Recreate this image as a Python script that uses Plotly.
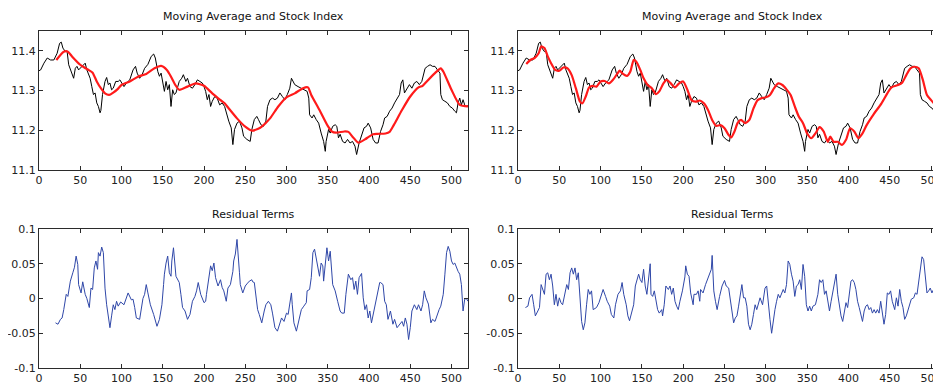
import plotly.graph_objects as go

# ---------------- data ----------------
stock_x = [0, 2, 6, 10, 14, 18, 22, 25, 27, 29, 32, 34, 36, 38, 42, 44, 46, 48, 52, 56,
           58, 60, 62, 64, 66, 68, 70, 72, 74, 75, 77, 80, 82, 84, 86, 88, 90, 93, 96, 98,
           100, 103, 106, 110, 114, 117, 119, 122, 125, 128, 132, 136, 139, 141, 144, 146, 148, 150, 152, 154,
           156, 158, 160, 162, 164, 166, 168, 170, 173, 175, 178, 180, 183, 186, 189, 192, 195, 198, 200, 202,
           204, 206, 208, 210, 213, 216, 219, 222, 225, 227, 230, 233, 235, 237, 240, 243, 246, 248, 252, 256,
           258, 261, 264, 266, 269, 272, 275, 277, 280, 283, 286, 289, 292, 295, 298, 301, 304, 306, 308, 310,
           314, 318, 322, 325, 327, 328, 331, 333, 336, 339, 342, 345, 347, 348, 351, 353, 356, 359, 361, 363,
           365, 368, 371, 374, 377, 380, 383, 385, 388, 391, 394, 397, 399, 402, 405, 408, 411, 414, 417, 419,
           422, 425, 428, 431, 434, 437, 439, 441, 443, 446, 449, 452, 455, 458, 461, 464, 466, 468, 471, 474,
           477, 480, 483, 486, 487, 489, 492, 495, 498, 501, 504, 506, 508, 510, 512, 514, 516, 518, 520]
stock_y = [11.350, 11.352, 11.369, 11.382, 11.377, 11.377, 11.394, 11.419, 11.422, 11.407, 11.398, 11.400, 11.365, 11.352, 11.331, 11.356, 11.361, 11.352, 11.361, 11.369,
           11.352, 11.340, 11.331, 11.310, 11.290, 11.294, 11.269, 11.260, 11.244, 11.250, 11.290, 11.323, 11.333, 11.315, 11.319, 11.302, 11.306, 11.323, 11.323, 11.327,
           11.319, 11.310, 11.319, 11.327, 11.352, 11.361, 11.344, 11.331, 11.340, 11.356, 11.366, 11.386, 11.392, 11.382, 11.348, 11.336, 11.344, 11.323, 11.298, 11.323,
           11.302, 11.315, 11.260, 11.302, 11.290, 11.294, 11.310, 11.323, 11.331, 11.340, 11.323, 11.331, 11.310, 11.306, 11.315, 11.327, 11.323, 11.319, 11.310, 11.298,
           11.277, 11.290, 11.260, 11.273, 11.285, 11.281, 11.264, 11.269, 11.260, 11.244, 11.223, 11.206, 11.164, 11.202, 11.218, 11.223, 11.206, 11.185, 11.177, 11.172,
           11.202, 11.227, 11.235, 11.227, 11.214, 11.210, 11.223, 11.260, 11.277, 11.281, 11.277, 11.281, 11.294, 11.285, 11.277, 11.290, 11.306, 11.331, 11.323, 11.315,
           11.310, 11.306, 11.302, 11.298, 11.281, 11.239, 11.231, 11.239, 11.227, 11.218, 11.193, 11.172, 11.147, 11.172, 11.202, 11.193, 11.210, 11.214, 11.210, 11.181,
           11.190, 11.172, 11.168, 11.177, 11.168, 11.172, 11.160, 11.139, 11.168, 11.189, 11.206, 11.210, 11.218, 11.206, 11.177, 11.168, 11.168, 11.197, 11.214, 11.231,
           11.235, 11.248, 11.256, 11.269, 11.281, 11.290, 11.319, 11.327, 11.294, 11.306, 11.315, 11.306, 11.319, 11.323, 11.315, 11.323, 11.344, 11.356, 11.361, 11.365,
           11.361, 11.361, 11.352, 11.344, 11.290, 11.277, 11.273, 11.269, 11.260, 11.256, 11.248, 11.244, 11.269, 11.281, 11.264, 11.277, 11.264, 11.260, 11.262]

ma_left_x = [21, 30, 35, 40, 50, 55, 60, 65, 70, 75, 80, 85, 90, 95, 100, 110, 120, 130, 140, 148,
             155, 160, 165, 170, 180, 190, 200, 210, 220, 225, 230, 240, 250, 258, 265, 270, 280, 290, 300, 310,
             320, 326, 330, 340, 350, 355, 360, 370, 375, 380, 387, 395, 400, 405, 410, 420, 425, 430, 440, 450,
             460, 465, 470, 480, 487, 490, 500, 510, 520]
ma_left_y = [11.377, 11.398, 11.398, 11.386, 11.365, 11.358, 11.352, 11.345, 11.323, 11.306, 11.293, 11.289, 11.295, 11.303, 11.314, 11.323, 11.335, 11.342, 11.356, 11.362,
             11.352, 11.335, 11.315, 11.302, 11.310, 11.318, 11.312, 11.293, 11.276, 11.268, 11.255, 11.230, 11.209, 11.199, 11.203, 11.209, 11.230, 11.260, 11.283, 11.293,
             11.306, 11.308, 11.289, 11.251, 11.211, 11.197, 11.194, 11.197, 11.196, 11.184, 11.169, 11.177, 11.184, 11.190, 11.191, 11.192, 11.196, 11.213, 11.251, 11.285,
             11.308, 11.312, 11.323, 11.344, 11.356, 11.348, 11.302, 11.264, 11.260]

ma_right_x = [10, 15, 20, 25, 28, 32, 36, 40, 45, 50, 55, 60, 65, 70, 75, 78, 82, 86, 90, 95,
              100, 105, 110, 115, 120, 123, 127, 132, 136, 140, 143, 148, 152, 157, 162, 167, 171, 176, 180, 185,
              190, 195, 200, 205, 210, 215, 220, 225, 230, 235, 240, 245, 250, 255, 258, 262, 266, 270, 275, 280,
              285, 290, 295, 300, 305, 310, 315, 320, 325, 330, 335, 340, 345, 350, 355, 360, 365, 370, 375, 378,
              382, 387, 392, 397, 402, 407, 412, 417, 422, 430, 440, 447, 452, 460, 465, 470, 475, 480, 485, 490,
              495, 500, 505, 510, 515, 520]
ma_right_y = [11.367, 11.377, 11.382, 11.394, 11.411, 11.407, 11.386, 11.369, 11.352, 11.350, 11.358, 11.356, 11.339, 11.306, 11.272, 11.268, 11.285, 11.308, 11.312, 11.310,
              11.323, 11.324, 11.318, 11.327, 11.342, 11.350, 11.342, 11.337, 11.348, 11.377, 11.373, 11.352, 11.331, 11.314, 11.306, 11.291, 11.298, 11.318, 11.327, 11.318,
              11.308, 11.318, 11.323, 11.302, 11.276, 11.272, 11.275, 11.268, 11.251, 11.226, 11.211, 11.213, 11.205, 11.188, 11.182, 11.197, 11.219, 11.226, 11.218, 11.226,
              11.255, 11.276, 11.281, 11.283, 11.289, 11.306, 11.318, 11.314, 11.303, 11.289, 11.260, 11.234, 11.218, 11.192, 11.180, 11.192, 11.208, 11.197, 11.171, 11.184,
              11.171, 11.171, 11.163, 11.176, 11.205, 11.197, 11.180, 11.192, 11.213, 11.239, 11.268, 11.293, 11.308, 11.314, 11.320, 11.339, 11.356, 11.360, 11.356, 11.327,
              11.289, 11.276, 11.264, 11.255, 11.262, 11.266]

res_left_x = [20, 23, 26, 28, 30, 33, 35, 38, 41, 43, 45, 47, 48, 51, 53, 56, 58, 61, 63, 65,
              67, 69, 71, 72, 74, 76, 78, 80, 82, 84, 86, 88, 90, 92, 94, 96, 99, 103, 105, 108,
              112, 114, 116, 118, 122, 124, 126, 128, 130, 132, 135, 139, 141, 143, 146, 149, 151, 152, 154, 156,
              158, 160, 161, 163, 166, 168, 170, 172, 174, 177, 180, 183, 186, 189, 191, 193, 196, 200, 202, 203,
              206, 208, 210, 212, 214, 217, 220, 222, 224, 227, 229, 232, 235, 236, 238, 240, 243, 244, 247, 250,
              252, 255, 258, 259, 261, 263, 265, 267, 270, 273, 275, 278, 281, 283, 286, 289, 291, 294, 297, 300,
              302, 304, 306, 307, 309, 312, 316, 318, 321, 324, 325, 328, 330, 332, 334, 336, 338, 340, 342, 344,
              345, 347, 349, 351, 353, 356, 359, 362, 365, 367, 370, 372, 375, 378, 380, 382, 384, 386, 388, 391,
              393, 395, 397, 399, 401, 403, 405, 408, 411, 413, 414, 417, 419, 421, 423, 426, 429, 431, 434, 437,
              440, 442, 444, 446, 448, 450, 452, 455, 458, 460, 463, 465, 467, 469, 472, 475, 477, 480, 483, 485,
              487, 488, 490, 492, 494, 496, 498, 500, 502, 504, 506, 508, 510, 512, 514, 516, 518, 520]
res_left_y = [-0.035, -0.037, -0.030, -0.028, -0.016, 0.006, 0.003, 0.025, 0.037, 0.045, 0.061, 0.049, 0.020, 0.008, 0.024, 0.006, 0.000, -0.013, 0.015, 0.013,
              0.044, 0.054, 0.042, 0.066, 0.061, 0.074, 0.066, 0.015, -0.009, -0.030, -0.042, -0.025, -0.009, -0.016, -0.004, -0.011, -0.005, -0.009, -0.001, 0.008,
              -0.002, -0.001, -0.013, -0.028, -0.030, -0.011, 0.000, 0.006, 0.020, 0.008, -0.009, -0.023, -0.033, -0.040, -0.030, -0.009, 0.020, 0.035, 0.051, 0.061,
              0.037, 0.032, 0.054, 0.073, 0.032, 0.027, 0.023, 0.006, -0.013, -0.018, -0.030, -0.023, -0.004, 0.003, 0.011, 0.023, 0.006, -0.006, -0.004, 0.006,
              0.032, 0.047, 0.040, 0.051, 0.030, 0.018, 0.027, 0.016, 0.011, -0.004, 0.015, 0.020, 0.039, 0.054, 0.064, 0.085, 0.037, 0.020, 0.008, 0.018,
              0.021, 0.025, 0.027, 0.024, 0.023, 0.003, -0.016, -0.023, -0.035, -0.018, -0.009, -0.004, -0.009, -0.021, -0.042, -0.047, -0.040, -0.028, -0.033, -0.021,
              -0.023, -0.009, 0.008, -0.009, -0.035, -0.047, -0.025, -0.016, -0.011, -0.006, 0.011, 0.013, 0.030, 0.066, 0.071, 0.059, 0.042, 0.032, 0.051, 0.047,
              0.025, 0.054, 0.073, 0.054, 0.068, 0.020, 0.011, -0.004, -0.018, -0.021, -0.021, 0.006, 0.035, 0.027, 0.030, 0.013, 0.025, 0.006, 0.030, 0.036,
              0.001, -0.016, -0.009, -0.028, -0.018, -0.035, -0.023, -0.004, 0.013, 0.023, 0.023, 0.020, -0.004, -0.009, -0.030, -0.018, -0.037, -0.030, -0.042, -0.037,
              -0.033, -0.040, -0.028, -0.037, -0.059, -0.042, -0.018, -0.009, -0.016, -0.009, -0.018, -0.009, 0.011, 0.001, -0.008, -0.035, -0.030, -0.033, -0.021, -0.016,
              -0.011, -0.004, 0.006, 0.035, 0.066, 0.075, 0.068, 0.054, 0.049, 0.051, 0.044, 0.039, 0.035, 0.020, -0.018, -0.001, 0.000, -0.004, 0.003, -0.002]
res_left_x = res_left_x[:len(res_left_y)]

res_right_x = [9, 12, 14, 17, 19, 21, 24, 26, 28, 30, 32, 34, 36, 38, 40, 42, 44, 46, 48, 50,
               52, 54, 57, 59, 61, 63, 65, 67, 69, 71, 73, 75, 77, 79, 81, 83, 85, 87, 89, 91,
               95, 98, 100, 103, 106, 108, 111, 113, 116, 118, 121, 124, 126, 128, 131, 133, 135, 137, 140, 142,
               144, 146, 148, 150, 152, 154, 156, 158, 160, 161, 163, 165, 167, 169, 171, 174, 175, 177, 179, 182,
               184, 186, 188, 190, 192, 194, 196, 199, 202, 203, 205, 207, 209, 212, 213, 216, 218, 220, 221, 224,
               227, 229, 232, 234, 235, 237, 239, 241, 244, 247, 250, 252, 255, 257, 259, 261, 263, 265, 267, 269,
               271, 273, 275, 277, 279, 281, 283, 285, 287, 289, 291, 293, 296, 299, 301, 303, 305, 307, 309, 311,
               313, 315, 317, 319, 321, 323, 325, 327, 329, 331, 333, 335, 337, 339, 341, 343, 345, 347, 349, 351,
               353, 355, 357, 360, 363, 365, 367, 369, 371, 373, 375, 377, 379, 381, 383, 385, 387, 389, 391, 393,
               395, 397, 399, 401, 403, 405, 407, 409, 411, 413, 415, 417, 419, 421, 423, 425, 427, 429, 431, 433,
               435, 437, 439, 441, 443, 445, 447, 449, 451, 453, 456, 458, 460, 462, 464, 466, 468, 470, 472, 474,
               476, 479, 481, 483, 485, 487, 489, 491, 493, 495, 497, 499, 501, 503, 505, 507, 509, 511, 514, 517, 520]
res_right_y = [-0.013, -0.011, 0.001, 0.006, -0.009, -0.025, -0.018, -0.013, 0.020, 0.013, 0.006, 0.035, 0.037, 0.027, 0.035, 0.018, -0.009, 0.006, -0.011, 0.001,
               -0.006, -0.009, 0.006, 0.020, 0.013, 0.037, 0.044, 0.035, 0.044, 0.027, 0.037, 0.001, -0.033, -0.045, -0.035, -0.009, 0.013, 0.006, 0.011, -0.016,
               -0.013, -0.006, 0.001, 0.013, 0.003, -0.004, -0.011, -0.023, -0.028, -0.009, 0.006, 0.011, 0.023, 0.006, -0.009, -0.025, -0.032, -0.023, -0.009, 0.018,
               0.025, 0.035, 0.027, 0.023, 0.042, 0.018, 0.006, 0.032, 0.050, 0.006, 0.003, 0.011, -0.006, -0.016, -0.021, -0.016, -0.025, -0.009, 0.018, 0.013,
               0.018, 0.006, 0.015, -0.004, -0.011, -0.016, -0.004, 0.011, 0.031, 0.047, 0.035, 0.032, 0.008, -0.009, 0.006, 0.006, 0.011, -0.004, 0.013, 0.008,
               0.020, 0.027, 0.035, 0.042, 0.062, 0.011, -0.004, -0.016, 0.003, 0.018, 0.026, 0.018, 0.015, -0.004, -0.023, -0.035, -0.028, -0.025, -0.011, 0.006,
               0.020, 0.001, 0.001, -0.011, -0.037, -0.045, -0.037, -0.023, -0.009, -0.016, -0.009, 0.001, -0.009, 0.015, 0.018, -0.013, -0.030, -0.050, -0.028, -0.016,
               -0.004, 0.006, 0.001, 0.006, 0.013, 0.008, 0.020, 0.054, 0.049, 0.035, 0.025, 0.003, 0.018, 0.020, 0.027, 0.013, 0.049, 0.032, -0.009, -0.018,
               -0.011, -0.018, -0.011, -0.009, 0.006, 0.027, 0.023, 0.027, 0.006, 0.011, -0.006, -0.018, -0.004, 0.011, 0.020, 0.035, 0.006, -0.009, -0.025, -0.033,
               -0.018, -0.006, -0.013, 0.011, 0.025, 0.027, 0.023, 0.013, -0.004, -0.013, -0.025, -0.033, -0.018, -0.011, -0.009, -0.016, -0.013, -0.021, -0.016, -0.021,
               -0.016, -0.021, -0.004, -0.025, -0.037, -0.023, 0.008, 0.006, 0.011, -0.004, -0.016, 0.001, -0.011, 0.013, -0.004, -0.013, -0.030, -0.025, -0.016, -0.006,
               -0.001, 0.001, 0.008, 0.006, 0.027, 0.044, 0.060, 0.056, 0.032, 0.008, 0.011, 0.015, 0.008, 0.013, 0.006, 0.003, -0.013, -0.028, -0.020, -0.012, -0.010]
res_right_x = res_right_x[:len(res_right_y)]

title_top = "Moving Average and Stock Index"
title_bottom = "Residual Terms"
x_ticks = [0, 50, 100, 150, 200, 250, 300, 350, 400, 450, 500]
y_top_ticks = [11.1, 11.2, 11.3, 11.4]
y_top_labels = ["11.1", "11.2", "11.3", "11.4"]
y_res_ticks = [-0.1, -0.05, 0, 0.05, 0.1]
y_res_labels = ["-0.1", "-0.05", "0", "0.05", "0.1"]

# ---------------- figure ----------------
# The page body adds an 8px offset, so the figure is 8px smaller and all
# positions are expressed in figure pixels (screen pixel - 8).
OFF = 8
W, H = 941 - OFF, 384 - OFF
AX = "#2b2b2b"
FONT = dict(family="DejaVu Sans", size=11, color="#222222")
STOCK_C = "#000000"
MA_C = "#ff1a1a"
RES_C = "#2f47a8"

fig = go.Figure()
fig.add_trace(go.Scatter(x=stock_x, y=stock_y, mode="lines", line=dict(color=STOCK_C, width=1),
                         xaxis="x", yaxis="y", showlegend=False))
fig.add_trace(go.Scatter(x=ma_left_x, y=ma_left_y, mode="lines", line=dict(color=MA_C, width=2.2, shape="spline", smoothing=0.6),
                         xaxis="x", yaxis="y", showlegend=False))
fig.add_trace(go.Scatter(x=stock_x, y=stock_y, mode="lines", line=dict(color=STOCK_C, width=1),
                         xaxis="x2", yaxis="y2", showlegend=False))
fig.add_trace(go.Scatter(x=ma_right_x, y=ma_right_y, mode="lines", line=dict(color=MA_C, width=2.2, shape="spline", smoothing=0.6),
                         xaxis="x2", yaxis="y2", showlegend=False))
fig.add_trace(go.Scatter(x=res_left_x, y=res_left_y, mode="lines", line=dict(color=RES_C, width=1),
                         xaxis="x3", yaxis="y3", showlegend=False))
fig.add_trace(go.Scatter(x=res_right_x, y=res_right_y, mode="lines", line=dict(color=RES_C, width=1),
                         xaxis="x4", yaxis="y4", showlegend=False))

def axis(**kw):
    d = dict(showline=True, linecolor=AX, linewidth=1, mirror="ticks", ticks="inside",
             ticklen=4, tickwidth=1, tickcolor=AX, showgrid=False, zeroline=False,
             tickfont=FONT, fixedrange=True, automargin=False, ticklabeloverflow="allow")
    d.update(kw)
    return d

def px_x(p):
    return (p - OFF) / W

def px_y(p):
    return 1 - (p - OFF) / H

xl = [px_x(39), px_x(468)]
xr = [px_x(518), 1.0]
yt = [px_y(170), px_y(31)]
yb = [px_y(368), px_y(229)]

fig.update_layout(
    width=W, height=H,
    margin=dict(l=0, r=0, t=0, b=0),
    paper_bgcolor="white", plot_bgcolor="white",
    xaxis=axis(domain=xl, range=[0, 520], tickvals=x_ticks, anchor="y"),
    yaxis=axis(domain=yt, range=[11.1, 11.45], tickvals=y_top_ticks, ticktext=y_top_labels, anchor="x"),
    xaxis2=axis(domain=xr, range=[0, 512], tickvals=x_ticks, anchor="y2"),
    yaxis2=axis(domain=yt, range=[11.1, 11.45], tickvals=y_top_ticks, ticktext=y_top_labels, anchor="x2"),
    xaxis3=axis(domain=xl, range=[0, 520], tickvals=x_ticks, anchor="y3"),
    yaxis3=axis(domain=yb, range=[-0.1, 0.1], tickvals=y_res_ticks, ticktext=y_res_labels, anchor="x3"),
    xaxis4=axis(domain=xr, range=[0, 512], tickvals=x_ticks, anchor="y4"),
    yaxis4=axis(domain=yb, range=[-0.1, 0.1], tickvals=y_res_ticks, ticktext=y_res_labels, anchor="x4"),
)

title_font = dict(family="DejaVu Sans", size=11, color="#111111")
for xc, yc, txt in [(px_x((39 + 468) / 2), px_y(16), title_top),
                    (px_x((518 + 947) / 2), px_y(16), title_top),
                    (px_x((39 + 468) / 2), px_y(215), title_bottom),
                    (px_x((518 + 947) / 2), px_y(215), title_bottom)]:
    fig.add_annotation(x=xc, y=yc, xref="paper", yref="paper", text=txt, showarrow=False,
                       font=title_font, xanchor="center", yanchor="middle")

fig.write_html("out.html")
